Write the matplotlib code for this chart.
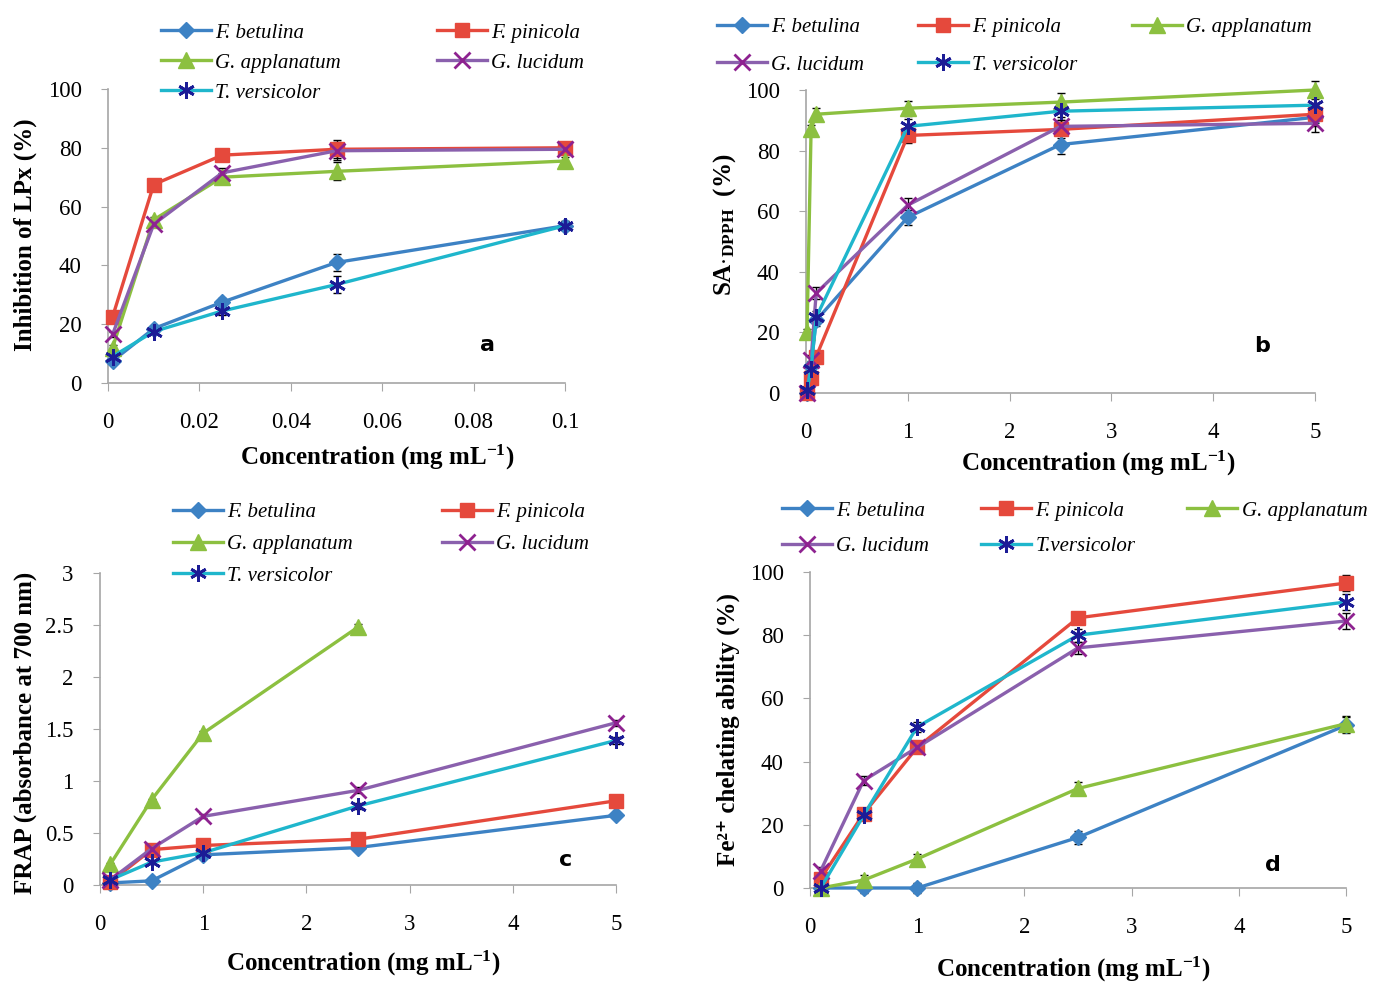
import numpy as np
import matplotlib.pyplot as plt

plt.rcParams['font.family'] = 'Liberation Serif'
plt.rcParams['mathtext.fontset'] = 'custom'
plt.rcParams['mathtext.rm'] = 'Liberation Serif'
plt.rcParams['mathtext.bf'] = 'Liberation Serif:bold'
plt.rcParams['mathtext.it'] = 'Liberation Serif:italic'

species = ['F. betulina', 'F. pinicola', 'G. applanatum', 'G. lucidum', 'T. versicolor']

# panel a - lipid peroxidation inhibition
conc_a = [0.001, 0.01, 0.025, 0.05, 0.1]
lpx_betulina = [7.5, 18.5, 27.5, 41, 53.5]
lpx_pinicola = [22.5, 67.5, 77.5, 79.5, 80]
lpx_applanatum = [12, 55.5, 70, 72, 75.5]
lpx_lucidum = [16.5, 54, 71.5, 79, 79.5]
lpx_versicolor = [9, 17.5, 24.5, 33.5, 53.5]
lpx_err = [1, 1, 1.5, 3, 1.5]

# panel b - DPPH scavenging
conc_b = [0.01, 0.05, 0.1, 1, 2.5, 5]
dpph_betulina = [0, 9, 24, 58, 82, 91]
dpph_pinicola = [0, 5, 12, 85, 87, 92]
dpph_applanatum = [20, 87, 92, 94, 96, 100]
dpph_lucidum = [0, 11, 33, 62, 88, 89]
dpph_versicolor = [1, 8, 25, 88, 93, 95]
dpph_err = [1, 1.5, 2, 2.5, 3, 3]

# panel c - FRAP
conc_c = [0.1, 0.5, 1, 2.5, 5]
conc_c_applanatum = [0.1, 0.5, 1, 2.5]
frap_betulina = [0.02, 0.04, 0.29, 0.36, 0.67]
frap_pinicola = [0.03, 0.34, 0.38, 0.44, 0.81]
frap_applanatum = [0.2, 0.82, 1.46, 2.48]
frap_lucidum = [0.05, 0.35, 0.66, 0.91, 1.56]
frap_versicolor = [0.05, 0.22, 0.31, 0.76, 1.39]
frap_err = [0.01, 0.01, 0.02, 0.03, 0.03]

# panel d - Fe2+ chelating
conc_d = [0.1, 0.5, 1, 2.5, 5]
fe_betulina = [0, 0, 0, 16, 51.5]
fe_pinicola = [3, 23.5, 44.5, 85.5, 96.5]
fe_applanatum = [0, 2.5, 9.2, 31.5, 52]
fe_lucidum = [5.5, 34, 44.5, 76, 84.5]
fe_versicolor = [0, 23, 51, 80, 90.5]
fe_err = [1, 1.5, 1.5, 2, 2.5]

styles = {
    'F. betulina': dict(color='#3d82c4', marker='D', mfc='#3d82c4', mec='#3d82c4', ms=8),
    'F. pinicola': dict(color='#e5493c', marker='s', mfc='#e5493c', mec='#e5493c', ms=10),
    'G. applanatum': dict(color='#8cc040', marker='^', mfc='#8cc040', mec='#8cc040', ms=11),
    'G. lucidum': dict(color='#8a60ad', marker='x', mfc='#8e2290', mec='#8e2290', ms=11, mew=2),
    'T. versicolor': dict(color='#1fb6cc', marker=(6, 2, 0), mfc='#1c1c96', mec='#1c1c96', ms=12, mew=2),
}

fig = plt.figure(figsize=(13.75, 9.84), dpi=100)


def setup(ax, xlim, ylim, xticks, xlabels, yticks, ylabels):
    ax.set_xlim(*xlim)
    ax.set_ylim(*ylim)
    ax.set_xticks(xticks)
    ax.set_xticklabels(xlabels)
    ax.set_yticks(yticks)
    ax.set_yticklabels(ylabels)
    for s in ['top', 'right']:
        ax.spines[s].set_visible(False)
    for s in ['left', 'bottom']:
        ax.spines[s].set_color('#a6a6a6')
        ax.spines[s].set_linewidth(1.2)
    ax.tick_params(axis='x', direction='out', length=6, color='#a6a6a6', pad=15, labelsize=16.5)
    ax.tick_params(axis='y', direction='out', length=5, color='#a6a6a6', pad=14, labelsize=16.5)


def draw(ax, xs, ys, err):
    lines = []
    for name, x, y in zip(species, xs, ys):
        st = styles[name]
        ax.errorbar(x, y, yerr=err[:len(y)], fmt='none', ecolor='black',
                    elinewidth=1, capsize=3, zorder=2, clip_on=False)
        ln, = ax.plot(x, y, lw=2.4, label=name, zorder=3, clip_on=False, **st)
        lines.append(ln)
    return lines


def put_legend(ax, lines, names, order, ncol, center, colsp, labsp):
    ax.legend([lines[i] for i in order], [names[i] for i in order], ncol=ncol,
              loc='center', bbox_to_anchor=center, bbox_transform=fig.transFigure,
              frameon=False, handlelength=2.4, handletextpad=0.2,
              columnspacing=colsp, labelspacing=labsp,
              prop=dict(family='Liberation Serif', style='italic', size=15))


xlab = r'Concentration (mg mL$^{\mathbf{-1}}$)'
lab_kw = dict(fontsize=18, fontweight='bold')

# a
ax = fig.add_axes([108 / 1375, 1 - 383 / 984, 457 / 1375, 294 / 984])
setup(ax, (0, 0.1), (0, 100), [0, 0.02, 0.04, 0.06, 0.08, 0.1],
      ['0', '0.02', '0.04', '0.06', '0.08', '0.1'],
      range(0, 101, 20), [str(v) for v in range(0, 101, 20)])
ln = draw(ax, [conc_a] * 5,
          [lpx_betulina, lpx_pinicola, lpx_applanatum, lpx_lucidum, lpx_versicolor], lpx_err)
ax.set_xlabel(xlab, **lab_kw)
ax.xaxis.label.set_va('center')
ax.xaxis.set_label_coords(0.589, -0.252)
ax.set_ylabel('Inhibition of LPx (%)', **lab_kw)
ax.yaxis.label.set_va('center')
ax.yaxis.set_label_coords(-0.182, 0.503)
ax.text(0.83, 0.13, 'a', transform=ax.transAxes, fontsize=16, fontweight='bold',
        family='DejaVu Sans', ha='center', va='center')
put_legend(ax, ln, species, [0, 2, 4, 1, 3], 2, (0.271, 0.936), 4.6, 0.5)

# b
ax = fig.add_axes([806 / 1375, 1 - 393 / 984, 509 / 1375, 303 / 984])
setup(ax, (0, 5), (0, 100), range(0, 6), [str(v) for v in range(6)],
      range(0, 101, 20), [str(v) for v in range(0, 101, 20)])
ln = draw(ax, [conc_b] * 5,
          [dpph_betulina, dpph_pinicola, dpph_applanatum, dpph_lucidum, dpph_versicolor], dpph_err)
ax.set_xlabel(xlab, **lab_kw)
ax.xaxis.label.set_va('center')
ax.xaxis.set_label_coords(0.574, -0.231)
ax.set_ylabel(r'SA$\mathbf{\cdot}_{\mathbf{DPPH}}$  (%)', **lab_kw)
ax.yaxis.label.set_va('center')
ax.yaxis.set_label_coords(-0.159, 0.554)
ax.text(0.896, 0.155, 'b', transform=ax.transAxes, fontsize=16, fontweight='bold',
        family='DejaVu Sans', ha='center', va='center')
put_legend(ax, ln, species, [0, 3, 1, 4, 2], 3, (0.7375, 0.953), 2.6, 0.85)

# c
ax = fig.add_axes([100 / 1375, 1 - 885 / 984, 516 / 1375, 312 / 984])
setup(ax, (0, 5), (0, 3), range(0, 6), [str(v) for v in range(6)],
      [0, 0.5, 1, 1.5, 2, 2.5, 3], ['0', '0.5', '1', '1.5', '2', '2.5', '3'])
ln = draw(ax, [conc_c, conc_c, conc_c_applanatum, conc_c, conc_c],
          [frap_betulina, frap_pinicola, frap_applanatum, frap_lucidum, frap_versicolor], frap_err)
ax.set_xlabel(xlab, **lab_kw)
ax.xaxis.label.set_va('center')
ax.xaxis.set_label_coords(0.510, -0.25)
ax.set_ylabel('FRAP (absorbance at 700 nm)', **lab_kw)
ax.yaxis.label.set_va('center')
ax.yaxis.set_label_coords(-0.145, 0.487)
ax.text(0.903, 0.08, 'c', transform=ax.transAxes, fontsize=16, fontweight='bold',
        family='DejaVu Sans', ha='center', va='center')
put_legend(ax, ln, species, [0, 2, 4, 1, 3], 2, (0.277, 0.447), 4.3, 0.58)

# d
ax = fig.add_axes([810 / 1375, 1 - 888 / 984, 536 / 1375, 316 / 984])
setup(ax, (0, 5), (0, 100), range(0, 6), [str(v) for v in range(6)],
      range(0, 101, 20), [str(v) for v in range(0, 101, 20)])
ln = draw(ax, [conc_d] * 5,
          [fe_betulina, fe_pinicola, fe_applanatum, fe_lucidum, fe_versicolor], fe_err)
ax.set_xlabel(xlab, **lab_kw)
ax.xaxis.label.set_va('center')
ax.xaxis.set_label_coords(0.491, -0.259)
ax.set_ylabel('Fe²⁺ chelating ability (%)', family=['Liberation Serif', 'DejaVu Serif'], **lab_kw)
ax.yaxis.label.set_va('center')
ax.yaxis.set_label_coords(-0.153, 0.5)
ax.text(0.864, 0.073, 'd', transform=ax.transAxes, fontsize=16, fontweight='bold',
        family='DejaVu Sans', ha='center', va='center')
names_d = ['F. betulina', 'F. pinicola', 'G. applanatum', 'G. lucidum', 'T.versicolor']
put_legend(ax, ln, names_d, [0, 3, 1, 4, 2], 3, (0.7815, 0.463), 2.5, 0.75)

fig.savefig('out.png', dpi=100)
